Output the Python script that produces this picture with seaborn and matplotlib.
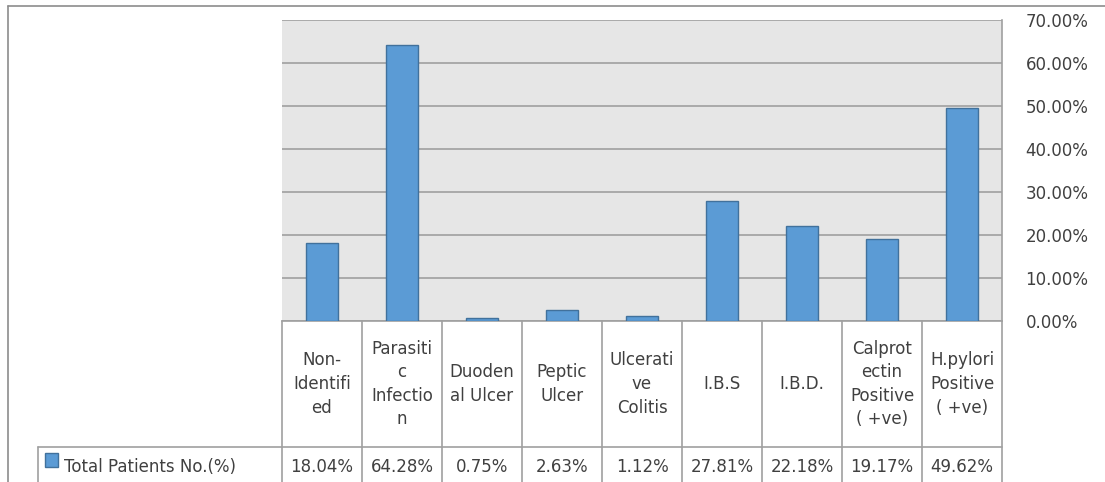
import matplotlib
matplotlib.use("Agg")
import matplotlib.pyplot as plt
from matplotlib.lines import Line2D
from matplotlib.patches import Rectangle
import seaborn as sns
import pandas as pd

categories = ["Non-Identified", "Parasitic Infection", "Duodenal Ulcer", "Peptic Ulcer",
              "Ulcerative Colitis", "I.B.S", "I.B.D.", "Calprotectin Positive ( +ve)",
              "H.pylori Positive ( +ve)"]
header_labels = ["Non-\nIdentifi\ned", "Parasiti\nc\nInfectio\nn", "Duoden\nal Ulcer",
                 "Peptic\nUlcer", "Ulcerati\nve\nColitis", "I.B.S", "I.B.D.",
                 "Calprot\nectin\nPositive\n( +ve)", "H.pylori\nPositive\n( +ve)"]
values = [18.04, 64.28, 0.75, 2.63, 1.12, 27.81, 22.18, 19.17, 49.62]
series_name = "Total Patients No.(%)"
yticks = [0, 10, 20, 30, 40, 50, 60, 70]

sns.set_style("white")
plt.rcParams['font.family'] = ['DejaVu Sans']

FS = 12
TXT = "#404040"
W, H = 1105, 482
fig = plt.figure(figsize=(W / 100, H / 100), dpi=100)
fig.patch.set_facecolor("white")

left_px, right_px, top_px, bot_px = 282, 1002, 20, 321
ax = fig.add_axes([left_px / W, 1 - bot_px / H, (right_px - left_px) / W, (bot_px - top_px) / H])
ax.set_facecolor("#e6e6e6")

df = pd.DataFrame({"cat": categories, "val": values})
sns.barplot(data=df, x="cat", y="val", ax=ax, color="#5b9bd5", width=0.39,
            edgecolor="#41719c", linewidth=1.0, saturation=1, zorder=3)

ax.set_xlim(-0.5, len(categories) - 0.5)
ax.set_ylim(0, 70)
ax.set_yticks(yticks)
ax.set_yticklabels([f"{t:.2f}%" for t in yticks])
ax.yaxis.tick_right()
ax.tick_params(axis="y", length=0, pad=17, labelsize=FS, colors=TXT)
ax.set_xticks([])
ax.set_xlabel("")
ax.set_ylabel("")
ax.grid(axis="y", color="#a0a0a0", linewidth=1.2, zorder=1)
ax.set_axisbelow(True)
for s in ["top", "left"]:
    ax.spines[s].set_visible(False)
for s in ["right", "bottom"]:
    ax.spines[s].set_color("#a0a0a0")
    ax.spines[s].set_linewidth(1.2)

# data table below axis
ph = bot_px - top_px
tr = ax.get_xaxis_transform()
line_c = "#a0a0a0"
bottom_y = -(H + 5 - bot_px) / ph
for i in range(len(categories) + 1):
    ax.add_line(Line2D([i - 0.5, i - 0.5], [0, bottom_y], transform=tr, color=line_c,
                       lw=1.2, clip_on=False))
for i, (lab, v) in enumerate(zip(header_labels, values)):
    ax.text(i, -(384 - bot_px) / ph, lab, transform=tr, ha="center", va="center",
            fontsize=FS, color=TXT, linespacing=1.4, clip_on=False)
    ax.text(i, -(467 - bot_px) / ph, f"{v:.2f}%", transform=tr, ha="center", va="center",
            fontsize=FS, color=TXT, clip_on=False)

# horizontal line between header and data row, extending to legend cell
fig.add_artist(Line2D([38 / W, right_px / W], [1 - 447 / H, 1 - 447 / H],
                      transform=fig.transFigure, color=line_c, lw=1.2))
fig.add_artist(Line2D([38 / W, 38 / W], [0, 1 - 447 / H],
                      transform=fig.transFigure, color=line_c, lw=1.2))
# legend key
fig.add_artist(Rectangle((45 / W, 1 - 467 / H), 13 / W, 14 / H, transform=fig.transFigure,
                         facecolor="#5b9bd5", edgecolor="#41719c", lw=1.0))
fig.text(64 / W, 1 - 467 / H, series_name, ha="left", va="center", fontsize=FS,
         color=TXT)

# outer chart border
fig.add_artist(Line2D([8 / W, 1], [1 - 6 / H, 1 - 6 / H], transform=fig.transFigure,
                      color="#8c8c8c", lw=1.2))
fig.add_artist(Line2D([8 / W, 8 / W], [0, 1 - 6 / H], transform=fig.transFigure,
                      color="#8c8c8c", lw=1.2))

fig.savefig("out.png", dpi=100)
